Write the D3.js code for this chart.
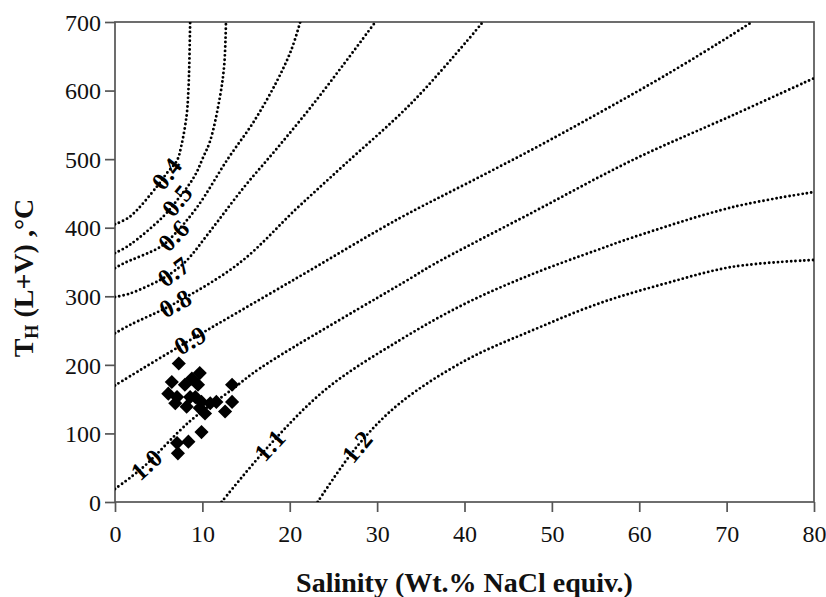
<!DOCTYPE html>
<html>
<head>
<meta charset="utf-8">
<script src="https://cdn.jsdelivr.net/npm/d3@7"></script>
<style>
body { margin: 0; background: #fff; }
text { font-family: "Liberation Serif", "Times New Roman", serif; fill: #111; }
</style>
</head>
<body>
<script>
var w = 826,
    h = 597;

// axis ticks
var salinityTicks = [0, 10, 20, 30, 40, 50, 60, 70, 80];
var thTicks = [0, 100, 200, 300, 400, 500, 600, 700];

// isochores, [salinity, Th]
var iso04 = [[0,405],[1.7,416],[4.8,460],[5.9,479],[7.1,498],[7.6,520],[8.2,564],[8.4,600],[8.5,637],[8.6,700]];
var iso05 = [[0,363],[1.7,375],[5.5,416],[7.1,440],[8.6,465],[9.35,481],[10.0,500],[10.9,527],[12.0,590],[12.5,637],[12.7,700]];
var iso06 = [[0,341],[1.0,348],[5.2,372],[6.7,389],[9.4,430],[12.9,500],[15.9,555],[18.5,613],[20.2,660],[21.2,700]];
var iso07 = [[0,299],[1.7,304],[5.2,324],[6.7,336],[8.2,352],[10.9,395],[14.7,458],[18.5,515],[22.3,574],[26.1,637],[29.8,700]];
var iso08 = [[0,246],[1.7,258],[6.9,290],[14.3,349],[20.8,428],[26.1,490],[33.8,580],[40.2,671],[42.1,700]];
var iso09 = [[0,170],[7.4,227],[20.6,325],[32.6,414],[40.2,464],[47.9,515],[55.5,568],[63.1,623],[70.7,682],[72.9,700]];
var iso10 = [[0,19],[2,38],[3.6,55],[8.6,118],[13.5,165],[16.6,195],[33.8,326],[36.4,346],[47.9,423],[59.3,499],[70.7,564],[80,618]];
var iso11 = [[12.2,0],[17.7,83],[24.2,165],[32.6,236],[40.2,290],[47.9,333],[55.1,367],[59.3,386],[70.7,430],[80,452]];
var iso12 = [[23.2,0],[27.7,81],[32.6,144],[40.2,207],[47.9,251],[55.5,290],[63.1,319],[70.7,343],[80,353]];

var isochores = [iso04, iso05, iso06, iso07, iso08, iso09, iso10, iso11, iso12];
var densityLabels = ["0.4", "0.5", "0.6", "0.7", "0.8", "0.9", "1.0", "1.1", "1.2"];
var labelSalinity = [5.9, 7.1, 6.7, 6.7, 6.9, 8.6, 3.6, 17.7, 27.7];

// fluid inclusions
var inclSalinity = [7.3, 6.5, 9.7, 8.8, 8.0, 9.5, 6.1, 7.1, 8.6, 6.9, 8.2, 9.9, 10.9, 11.6, 10.3, 13.4, 13.4, 12.6, 9.7, 9.9, 8.4, 7.1, 7.2, 9.2];
var inclTh = [202, 175, 188, 180, 171, 171, 158, 153, 153, 144, 139, 146, 144, 146, 129, 171, 146, 132, 137, 102, 88, 86, 71, 153];

var serif = '"Liberation Serif", "Times New Roman", serif';
var margin = {top: 22, right: 12, bottom: 95, left: 115};

var x = d3.scaleLinear().domain([0, 80]).range([margin.left, w - margin.right]);
var y = d3.scaleLinear().domain([0, 700]).range([h - margin.bottom, margin.top]);

var svg = d3.select("body").append("svg")
    .attr("width", w)
    .attr("height", h);

svg.append("defs").append("clipPath")
    .attr("id", "plot")
    .append("rect")
    .attr("x", x(0))
    .attr("y", y(700))
    .attr("width", x(80) - x(0))
    .attr("height", y(0) - y(700));

// axes
var xAxis = svg.append("g")
    .attr("transform", "translate(0," + y(0) + ")")
    .call(d3.axisBottom(x).tickValues(salinityTicks).tickSize(10).tickSizeOuter(0))
    .attr("font-family", serif)
    .attr("font-size", 24);

xAxis.selectAll("text")
    .attr("y", 40)
    .attr("dy", null)
    .attr("fill", "#111");

var yAxis = svg.append("g")
    .attr("transform", "translate(" + x(0) + ",0)")
    .call(d3.axisLeft(y).tickValues(thTicks).tickSize(10).tickSizeOuter(0))
    .attr("font-family", serif)
    .attr("font-size", 24);

yAxis.selectAll("text")
    .attr("x", -14)
    .attr("dy", "0.34em")
    .attr("fill", "#111");

svg.selectAll(".domain").remove();
svg.selectAll(".tick line")
    .attr("stroke", "#555")
    .attr("stroke-width", 1.7);

svg.append("rect")
    .attr("x", x(0))
    .attr("y", y(700))
    .attr("width", x(80) - x(0))
    .attr("height", y(0) - y(700))
    .attr("fill", "none")
    .attr("stroke", "#555")
    .attr("stroke-width", 1.7);

// isochores
var line = d3.line()
    .x(function(d) { return x(d[0]); })
    .y(function(d) { return y(d[1]); })
    .curve(d3.curveCatmullRom);

svg.append("g")
    .attr("clip-path", "url(#plot)")
    .selectAll("path")
    .data(isochores)
    .enter().append("path")
    .attr("d", line)
    .attr("fill", "none")
    .attr("stroke", "#000")
    .attr("stroke-width", 2.9)
    .attr("stroke-linecap", "round")
    .attr("stroke-dasharray", "0,4.4");

function thAt(pts, s) {
    for (var i = 1; i < pts.length; i++) {
        if (s <= pts[i][0]) {
            var a = pts[i - 1], b = pts[i];
            return a[1] + (b[1] - a[1]) * (s - a[0]) / (b[0] - a[0]);
        }
    }
    return pts[pts.length - 1][1];
}

svg.append("g")
    .selectAll("text")
    .data(densityLabels)
    .enter().append("text")
    .attr("transform", function(d, i) {
        var pts = isochores[i], s = labelSalinity[i];
        var x1 = x(s - 0.6), y1 = y(thAt(pts, s - 0.6));
        var x2 = x(s + 0.6), y2 = y(thAt(pts, s + 0.6));
        var ang = Math.atan2(y2 - y1, x2 - x1) * 180 / Math.PI;
        return "translate(" + x(s) + "," + y(thAt(pts, s)) + ") rotate(" + ang + ")";
    })
    .attr("dy", "0.35em")
    .style("text-anchor", "middle")
    .style("font-size", "25px")
    .style("font-weight", "bold")
    .style("letter-spacing", "0.5px")
    .style("fill", "#000")
    .text(function(d) { return d; });

// data points
svg.append("g")
    .selectAll("path")
    .data(inclSalinity)
    .enter().append("path")
    .attr("d", d3.symbol().type(d3.symbolSquare).size(100))
    .attr("transform", function(d, i) {
        return "translate(" + x(d) + "," + y(inclTh[i]) + ") rotate(45)";
    })
    .attr("fill", "#000");

// titles
svg.append("text")
    .attr("x", (x(0) + x(80)) / 2)
    .attr("y", 592)
    .style("text-anchor", "middle")
    .style("font-size", "28px")
    .style("font-weight", "bold")
    .text("Salinity (Wt.% NaCl equiv.)");

var yt = svg.append("text")
    .attr("transform", "translate(33,278) rotate(-90)")
    .style("text-anchor", "middle")
    .style("font-size", "28px")
    .style("font-weight", "bold");

yt.append("tspan").text("T");
yt.append("tspan").attr("dy", 5).style("font-size", "18px").text("H");
yt.append("tspan").attr("dy", -5).text(" (L+V) ,\u00b0C");
</script>
</body>
</html>
